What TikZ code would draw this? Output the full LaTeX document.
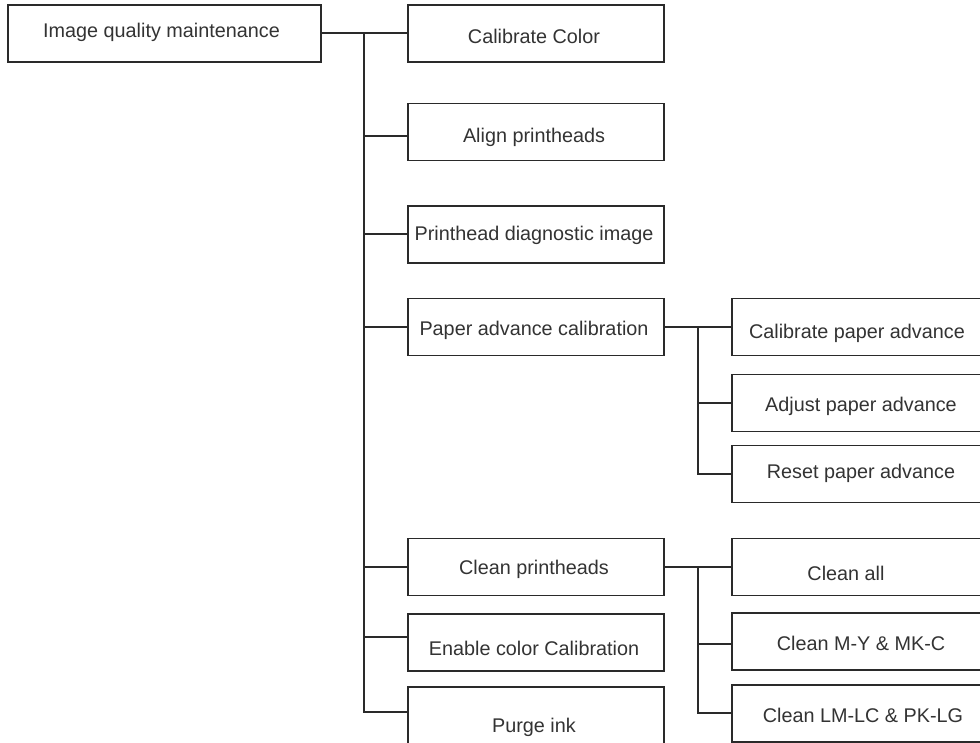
\documentclass[tikz,border=0pt]{standalone}
\usepackage{fontspec}
\setmainfont{Liberation Sans}
\definecolor{boxline}{HTML}{2A2A2A}
\definecolor{txt}{HTML}{333333}
\newcommand\lowtxt[2]{\raisebox{-#1pt}{#2}}
\begin{document}
\begin{tikzpicture}[x=1pt,y=-1pt,
  box/.style={draw=boxline, line width=1.9pt, fill=white, inner sep=0pt,
    minimum height=57pt, text height=0pt, text depth=0pt, text=txt,
    font=\fontsize{19.8}{22}\selectfont, anchor=center},
  midbox/.style={box, minimum width=256pt},
  rbox/.style={box, minimum width=258pt},
  conn/.style={draw=boxline, line width=1.9pt}]
\useasboundingbox[fill=white] (0,0) rectangle (980,742);
% root
\node[box, minimum width=313pt] (root) at (164.5,33.5) {\hspace*{-6pt}\lowtxt{3.5}{Image quality maintenance}};
% middle column
\node[midbox] (cc)  at (536,33.5)  {\hspace*{-4pt}\lowtxt{9.5}{Calibrate Color}};
\node[midbox] (ap)  at (536,132)   {\hspace*{-4pt}\lowtxt{10}{Align printheads}};
\node[midbox] (pd)  at (536,234.5) {\hspace*{-4pt}\lowtxt{5.5}{Printhead diagnostic image}};
\node[midbox] (pac) at (536,327)   {\hspace*{-4pt}\lowtxt{8}{Paper advance calibration}};
\node[midbox] (cp)  at (536,567)   {\hspace*{-4pt}\lowtxt{7}{Clean printheads}};
\node[midbox] (ecc) at (536,642.5) {\hspace*{-4pt}\lowtxt{12.5}{Enable color Calibration}};
\node[midbox] (pi)  at (536,715.5) {\hspace*{-4pt}\lowtxt{16.5}{Purge ink}};
% right column
\node[rbox] (cpa) at (861,327)   {\hspace*{-8pt}\lowtxt{11}{Calibrate paper advance}};
\node[rbox] (apa) at (861,403)   {\lowtxt{8}{Adjust paper advance}};
\node[rbox] (rpa) at (861,474)   {\lowtxt{4}{Reset paper advance}};
\node[rbox] (ca)  at (861,567)   {\hspace*{-30pt}\lowtxt{13.5}{Clean all}};
\node[rbox] (cmy) at (861,641.5) {\lowtxt{8.5}{Clean M-Y \& MK-C}};
\node[rbox] (clm) at (861,713.5) {\hspace*{4pt}\lowtxt{8.5}{Clean LM-LC \& PK-LG}};
% buses
\coordinate (b1) at (364,33);
\coordinate (b2) at (698,327);
\coordinate (b3) at (698,567);
\draw[conn] ([yshift=0.5pt]root.east) -- ([yshift=0.5pt]cc.west);
\draw[conn] (b1) |- ([yshift=-4pt]ap.west);
\draw[conn] (b1) |- ([yshift=0.5pt]pd.west);
\foreach \n in {pac,cp} \draw[conn] (b1) |- (\n.west);
\draw[conn] (b1) |- ([yshift=5.5pt]ecc.west);
\draw[conn] (b1) |- ([yshift=3.5pt]pi.west);
\draw[conn] (pac) -- (cpa);
\foreach \n in {apa,rpa} \draw[conn] (b2) |- (\n.west);
\draw[conn] (cp) -- (ca);
\draw[conn] (b3) |- ([yshift=-2.5pt]cmy.west);
\draw[conn] (b3) |- ([yshift=0.5pt]clm.west);
\end{tikzpicture}
\end{document}
